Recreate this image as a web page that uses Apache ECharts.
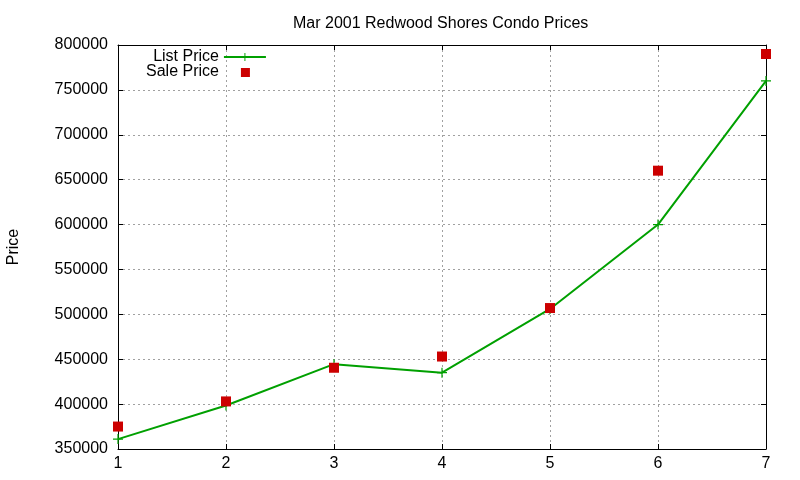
<!DOCTYPE html>
<html><head><meta charset="utf-8">
<script src="https://cdn.jsdelivr.net/npm/echarts@6/dist/echarts.min.js"></script>
<style>html,body{margin:0;padding:0;background:#fff}#c{width:800px;height:480px}</style>
</head><body><div id="c"></div>
<script>
const titleText = 'Mar 2001 Redwood Shores Condo Prices';
const xValues = [1, 2, 3, 4, 5, 6, 7];
const listPrice = [361000, 398500, 444500, 435000, 506000, 600000, 760000];
const salePrice = [375000, 403000, 440500, 453000, 507000, 660000, 790000];
const seriesNames = ['List Price', 'Sale Price'];

const font = 'Liberation Sans, Arial, sans-serif';
const plus = 'path://M4.4,0H5.6V4.4H10V5.6H5.6V10H4.4V5.6H0V4.4H4.4Z';
const squareIcon = 'path://M0,0L0,0M42,10L42,10M17,1H26V10H17Z';
const chart = echarts.init(document.getElementById('c'), null, {renderer: 'canvas'});
const axisCommon = {
  axisLine: {show: true, onZero: false, lineStyle: {color: '#000', width: 1}},
  axisTick: {show: true, inside: true, length: 5, lineStyle: {color: '#000'}},
};
chart.setOption({
  animation: false,
  backgroundColor: '#fff',
  title: {text: titleText, left: 288, top: 11,
    textStyle: {fontFamily: font, fontSize: 16, fontWeight: 'normal', color: '#000'}},
  grid: {left: 118, right: 34, top: 45, bottom: 31, containLabel: false, outerBoundsMode: 'none'},
  legend: {orient: 'vertical', left: 141, top: 44, align: 'right', itemWidth: 42, itemHeight: 10, itemGap: -1,
    textStyle: {fontFamily: font, fontSize: 16, color: '#000'},
    data: [{name: seriesNames[0]}, {name: seriesNames[1], icon: squareIcon}]},
  xAxis: [
    Object.assign({type: 'value', min: 1, max: 7, interval: 1, position: 'bottom',
      axisLabel: {fontFamily: font, fontSize: 16, color: '#000', margin: 7},
      splitLine: {show: true, lineStyle: {color: '#a0a0a0', type: [2, 3], width: 1}}}, axisCommon),
    Object.assign({type: 'value', min: 1, max: 7, interval: 1, position: 'top',
      axisLabel: {show: false}, splitLine: {show: false}}, axisCommon)
  ],
  yAxis: [
    Object.assign({type: 'value', min: 350000, max: 800000, interval: 50000, position: 'left',
      name: 'Price', nameLocation: 'middle', nameGap: 96, nameRotate: 90,
      nameTextStyle: {fontFamily: font, fontSize: 16, color: '#000'},
      axisLabel: {fontFamily: font, fontSize: 16, color: '#000', margin: 10, formatter: v => String(v)},
      splitLine: {show: true, lineStyle: {color: '#a0a0a0', type: [2, 3], width: 1}}}, axisCommon),
    Object.assign({type: 'value', min: 350000, max: 800000, interval: 50000, position: 'right',
      axisLabel: {show: false}, splitLine: {show: false}}, axisCommon)
  ],
  series: [
    {name: seriesNames[0], type: 'line', data: xValues.map((x, i) => [x, listPrice[i]]),
      symbol: plus, symbolSize: 10, showSymbol: true,
      lineStyle: {color: '#00a000', width: 2}, itemStyle: {color: '#00a000'}, z: 3},
    {name: seriesNames[1], type: 'scatter', data: xValues.map((x, i) => [x, salePrice[i]]),
      symbol: 'rect', symbolSize: 10, itemStyle: {color: '#cc0000', opacity: 1}, z: 4}
  ]
});
</script></body></html>
